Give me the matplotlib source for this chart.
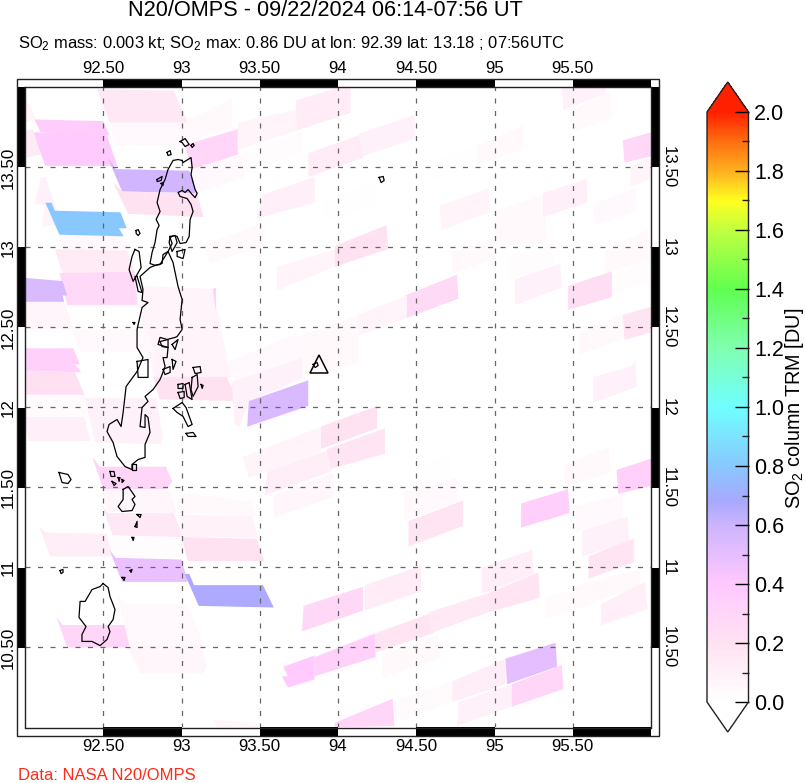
import numpy as np
import matplotlib
matplotlib.use('Agg')
import matplotlib.pyplot as plt
from matplotlib.cm import ScalarMappable
from matplotlib.collections import PolyCollection
from matplotlib.colors import LinearSegmentedColormap, Normalize
from matplotlib.patches import Rectangle

plt.rcParams['font.family'] = ['Liberation Sans', 'DejaVu Sans']
plt.rcParams['mathtext.default'] = 'regular'

lonTicks = [92.5, 93, 93.5, 94, 94.5, 95, 95.5]
latTicks = [10.5, 11, 11.5, 12, 12.5, 13, 13.5]
lonLabels = ['92.50', '93', '93.50', '94', '94.50', '95', '95.50']
latLabels = ['10.50', '11', '11.50', '12', '12.50', '13', '13.50']
barTicks = [0.0, 0.2, 0.4, 0.6, 0.8, 1.0, 1.2, 1.4, 1.6, 1.8, 2.0]

# colour table
cmapStops = [0.0, 0.2, 0.4, 0.6, 0.68, 0.8, 1.0, 1.2, 1.4, 1.6, 1.7, 1.8, 1.9, 2.0]
cmapColors = ['#FFFFFF', '#FFE2F2', '#FFC8FF', '#CCB4FF', '#A8A8FF', '#88C8FF', '#70FFFF',
              '#80FFB0', '#60FF50', '#C0FF40', '#FFFF20', '#FFB020', '#FF7010', '#FF2000']

# footprints of the west part of the swath
westLons = [
    [92.46, 92.95, 93.04, 92.54], [92.54, 93.04, 93.09, 92.58],
    [92.03, 92.07, 92.50, 92.54, 92.10], [92.05, 92.52, 92.59, 92.13],
    [92.00, 92.05, 92.10, 92.00], [92.00, 92.07, 92.00],
    [92.53, 92.58, 93.05, 93.11, 92.62], [92.56, 92.62, 93.10, 93.14, 92.66],
    [92.06, 92.10, 92.13, 92.22, 92.11], [92.11, 92.13, 92.22, 92.18],
    [92.21, 92.63, 92.68, 92.26], [92.19, 92.65, 92.70, 92.24], [92.22, 92.70, 92.72, 92.27],
    [92.13, 92.17, 92.19, 92.61, 92.65, 92.60, 92.63, 92.22],
    [92.00, 92.24, 92.27, 92.24, 92.25, 92.00], [92.00, 92.25, 92.31, 92.00],
    [92.00, 92.31, 92.35, 92.32, 92.36, 92.00], [92.00, 92.32, 92.38, 92.00],
    [92.00, 92.38, 92.40, 92.00], [92.00, 92.38, 92.42, 92.02],
    [92.38, 92.84, 92.88, 92.87, 92.45], [92.75, 93.20, 93.26, 92.74],
    [93.20, 93.22, 93.22], [92.30, 92.78, 92.83, 92.35], [92.78, 93.25, 93.29, 92.83],
    [92.79, 93.28, 93.32, 92.82], [92.82, 93.29, 93.36, 92.86],
    [92.43, 92.48, 92.90, 92.94, 92.91, 92.50], [92.49, 92.93, 92.97, 92.53],
    [92.49, 92.53, 92.95, 93.01, 92.56], [92.54, 93.01, 93.05, 92.58],
    [92.09, 92.13, 92.52, 92.56, 92.16], [92.99, 93.45, 93.48, 92.97],
    [92.99, 93.45, 93.49, 93.00], [93.00, 93.48, 93.53, 93.04],
    [92.54, 92.58, 93.00, 93.04, 92.62], [93.02, 93.05, 93.08, 93.52, 93.59, 93.11],
    [92.20, 92.24, 92.64, 92.67, 92.27], [92.59, 92.64, 93.04, 93.14, 92.67],
    [92.65, 93.13, 93.16, 93.14, 92.74], [93.20, 93.48, 93.49, 93.23],
]
westLats = [
    [13.99, 13.98, 13.78, 13.78], [13.78, 13.78, 13.63, 13.64],
    [13.86, 13.80, 13.79, 13.70, 13.72], [13.72, 13.71, 13.51, 13.51],
    [13.73, 13.74, 13.58, 13.56], [13.95, 13.80, 13.78],
    [13.56, 13.49, 13.48, 13.34, 13.35], [13.41, 13.35, 13.34, 13.19, 13.21],
    [13.27, 13.44, 13.44, 13.19, 13.27], [13.13, 13.28, 13.08, 13.14],
    [13.08, 13.07, 12.94, 12.95], [12.99, 12.98, 12.85, 12.84], [12.84, 12.85, 12.64, 12.64],
    [13.28, 13.28, 13.23, 13.22, 13.12, 13.12, 13.07, 13.08],
    [12.81, 12.79, 12.70, 12.70, 12.66, 12.66], [12.66, 12.66, 12.49, 12.49],
    [12.37, 12.37, 12.27, 12.27, 12.22, 12.23], [12.23, 12.22, 12.08, 12.08],
    [12.08, 12.07, 11.94, 11.94], [11.94, 11.94, 11.79, 11.79],
    [12.06, 12.06, 11.82, 11.77, 11.78], [12.76, 12.74, 12.49, 12.49],
    [12.74, 12.75, 12.60], [12.49, 12.49, 12.35, 12.35], [12.49, 12.49, 12.33, 12.35],
    [12.35, 12.33, 12.19, 12.19], [12.19, 12.19, 12.04, 12.05],
    [11.69, 11.63, 11.63, 11.54, 11.49, 11.49], [11.49, 11.48, 11.34, 11.35],
    [11.40, 11.34, 11.34, 11.19, 11.20], [11.20, 11.19, 11.06, 11.06],
    [11.26, 11.22, 11.21, 11.07, 11.07], [11.47, 11.41, 11.32, 11.34],
    [11.33, 11.32, 11.19, 11.19], [11.19, 11.18, 11.04, 11.04],
    [11.11, 11.06, 11.05, 10.91, 10.91], [10.96, 10.96, 10.89, 10.89, 10.75, 10.76],
    [10.69, 10.64, 10.64, 10.50, 10.50], [10.83, 10.77, 10.77, 10.51, 10.50],
    [10.51, 10.51, 10.38, 10.34, 10.34], [10.05, 10.03, 10.00, 10.00],
]
westValues = [0.16, 0.05, 0.36, 0.38, 0.14, 0.08, 0.58, 0.20, 0.10, 0.08, 0.05, 0.14, 0.27,
              0.80, 0.55, 0.07, 0.33, 0.22, 0.03, 0.11, 0.10, 0.08, 0.35, 0.05, 0.08, 0.08,
              0.20, 0.30, 0.06, 0.16, 0.02, 0.12, 0.04, 0.09, 0.20, 0.48, 0.67, 0.30, 0.05,
              0.06, 0.06]

# footprints of the east part of the swath
eastLons = [
    [93.73, 94.01, 94.08, 94.08, 93.73], [93.03, 93.32, 93.32, 93.03], [93.02, 93.36, 93.36, 93.07],
    [93.36, 93.73, 93.74, 93.36], [93.40, 93.77, 93.77, 93.40], [93.07, 93.40, 93.40, 93.09],
    [93.52, 93.85, 93.85, 93.48], [93.81, 94.16, 94.16, 93.81], [94.13, 94.49, 94.49, 94.16],
    [93.90, 94.24, 94.23, 93.90], [93.14, 93.52, 93.52, 93.18], [93.61, 93.99, 93.98, 93.61],
    [93.98, 94.31, 94.32, 93.98], [94.43, 94.76, 94.77, 94.44], [94.10, 94.44, 94.44, 94.10],
    [93.74, 94.13, 94.13, 93.77], [93.29, 93.73, 93.77, 93.34],
    [93.32, 93.77, 93.77, 93.43, 93.37, 93.34], [93.43, 93.81, 93.81, 93.42],
    [93.89, 94.25, 94.25, 93.89], [93.93, 94.30, 94.30, 93.93],
    [93.39, 93.89, 93.89, 93.55, 93.43], [93.55, 93.93, 93.96, 93.53], [93.59, 93.97, 93.97, 93.59],
    [94.42, 94.59, 94.59, 94.42], [94.53, 94.72, 94.72, 94.53], [94.53, 94.76, 94.76, 94.53],
    [94.45, 94.80, 94.80, 94.45], [95.17, 95.47, 95.48, 95.17], [95.52, 95.82, 95.82, 95.52],
    [95.56, 95.85, 95.86, 95.56], [95.60, 95.89, 95.89, 95.60], [95.54, 95.82, 95.83, 95.54],
    [95.82, 96.00, 96.00, 95.83], [95.63, 95.88, 95.90, 95.91, 95.63], [95.44, 95.73, 95.74, 95.45],
    [95.78, 96.00, 96.00, 95.79], [94.65, 94.96, 94.97, 94.66], [95.01, 95.31, 95.34, 95.01],
    [95.31, 95.59, 95.59, 95.31], [95.63, 95.90, 95.91, 95.64], [95.71, 95.98, 96.00, 95.71],
    [95.75, 96.00, 96.00, 95.76], [95.09, 95.37, 95.38, 95.09], [95.13, 95.42, 95.43, 95.13],
    [95.47, 95.75, 95.75, 95.47], [95.82, 96.00, 96.00, 95.83], [95.87, 96.00, 96.00, 95.87],
    [95.43, 95.71, 95.71, 95.44], [95.50, 95.74, 95.75, 95.51], [94.89, 95.18, 95.18, 94.89],
    [94.57, 94.89, 94.89, 94.57], [94.73, 95.00, 95.00, 94.73],
    [93.78, 94.16, 94.16, 93.77], [94.17, 94.53, 94.53, 94.17], [93.85, 94.24, 94.24, 93.85],
    [93.65, 93.85, 93.85, 93.68, 93.64, 93.68], [94.24, 94.61, 94.61, 94.24],
    [94.58, 94.96, 94.96, 94.59], [94.96, 95.28, 95.29, 94.96],
    [94.92, 95.24, 95.25, 94.96, 94.92], [94.29, 94.64, 94.65, 94.28],
    [93.98, 94.35, 94.36, 93.98], [94.35, 94.73, 94.73, 94.37], [94.73, 95.07, 95.07, 94.73],
    [94.77, 95.11, 95.11, 94.76], [95.11, 95.43, 95.44, 95.11], [95.07, 95.39, 95.40, 95.08],
    [95.32, 95.64, 95.64, 95.32], [95.50, 95.93, 95.93, 95.53], [95.68, 95.96, 95.98, 95.68],
]
eastLats = [
    [13.92, 14.00, 14.00, 13.84, 13.73], [13.79, 13.93, 13.75, 13.66], [13.64, 13.74, 13.58, 13.49],
    [13.78, 13.86, 13.73, 13.61], [13.60, 13.72, 13.59, 13.47], [13.49, 13.58, 13.44, 13.34],
    [13.33, 13.44, 13.28, 13.18], [13.59, 13.71, 13.56, 13.44], [13.71, 13.83, 13.68, 13.57],
    [13.28, 13.41, 13.26, 13.16], [13.02, 13.15, 13.01, 12.90], [12.88, 12.99, 12.88, 12.73],
    [13.01, 13.14, 12.99, 12.88], [12.70, 12.83, 12.68, 12.56], [12.57, 12.70, 12.56, 12.44],
    [12.44, 12.58, 12.28, 12.18], [12.28, 12.46, 12.31, 12.16],
    [12.16, 12.31, 12.18, 12.04, 11.88, 11.89], [12.04, 12.17, 12.01, 11.88],
    [11.88, 12.01, 11.87, 11.74], [11.74, 11.87, 11.71, 11.61],
    [11.69, 11.88, 11.72, 11.60, 11.56], [11.60, 11.73, 11.60, 11.45], [11.45, 11.59, 11.44, 11.31],
    [11.47, 11.52, 11.35, 11.30], [11.63, 11.71, 11.57, 11.51], [11.49, 11.56, 11.41, 11.33],
    [11.29, 11.42, 11.26, 11.13], [11.40, 11.49, 11.34, 11.25], [11.38, 11.46, 11.31, 11.22],
    [11.23, 11.32, 11.16, 11.07], [11.07, 11.18, 11.03, 10.93], [12.47, 12.58, 12.43, 12.33],
    [12.58, 12.63, 12.47, 12.42], [12.19, 12.26, 12.30, 12.13, 12.03], [11.64, 11.75, 11.59, 11.51],
    [11.61, 11.68, 11.51, 11.46], [13.26, 13.37, 13.22, 13.11], [13.23, 13.33, 13.03, 13.01],
    [13.34, 13.43, 13.28, 13.19], [13.27, 13.37, 13.23, 13.14], [12.98, 13.11, 12.93, 12.84],
    [12.82, 12.93, 12.78, 12.72], [12.94, 13.02, 12.89, 12.80], [12.80, 12.90, 12.75, 12.64],
    [12.76, 12.85, 12.69, 12.61], [13.67, 13.72, 13.57, 13.53], [13.51, 13.56, 13.43, 13.38],
    [14.00, 14.00, 13.96, 13.86], [13.86, 13.98, 13.81, 13.73], [13.64, 13.76, 13.61, 13.52],
    [13.53, 13.64, 13.52, 13.41], [12.97, 13.05, 12.93, 12.84],
    [10.76, 10.88, 10.73, 10.60], [10.89, 11.01, 10.85, 10.73], [10.44, 10.59, 10.44, 10.32],
    [10.38, 10.45, 10.30, 10.25, 10.32, 10.32], [10.59, 10.72, 10.59, 10.47],
    [10.72, 10.84, 10.72, 10.59], [10.84, 10.97, 10.81, 10.72],
    [11.00, 11.11, 10.96, 10.85, 10.84], [10.46, 10.58, 10.43, 10.31],
    [10.03, 10.18, 10.01, 10.00], [10.16, 10.29, 10.16, 10.03], [10.29, 10.43, 10.27, 10.16],
    [10.16, 10.27, 10.13, 10.01], [10.27, 10.39, 10.24, 10.13], [10.43, 10.53, 10.38, 10.27],
    [10.81, 10.91, 10.77, 10.68], [10.88, 10.99, 10.88, 10.75], [10.77, 10.91, 10.74, 10.64],
]
eastValues = [0.13, 0.04, 0.30, 0.08, 0.02, 0.05, 0.11, 0.13, 0.10, 0.01, 0.04, 0.08, 0.20,
              0.26, 0.08, 0.04, 0.05, 0.10, 0.55, 0.20, 0.18, 0.08, 0.12, 0.06, 0.04, 0.01,
              0.05, 0.18, 0.35, 0.05, 0.10, 0.18, 0.04, 0.18, 0.10, 0.04, 0.33, 0.08, 0.04,
              0.11, 0.05, 0.04, 0.02, 0.02, 0.10, 0.23, 0.28, 0.08, 0.10, 0.04, 0.04, 0.01,
              0.04, 0.28, 0.13, 0.33, 0.38, 0.18, 0.15, 0.18, 0.12, 0.04, 0.30, 0.03, 0.12,
              0.10, 0.30, 0.50, 0.03, 0.04, 0.11]

# coastlines, one list per island
coastLons = [
    [93.004, 93.010, 93.061, 93.068, 93.061, 93.074, 93.087, 93.100, 93.087, 93.068, 93.042, 93.023,
     93.004, 92.978, 92.991, 93.036, 93.061, 93.074, 93.055, 93.049, 93.029, 92.991, 92.972, 92.953,
     92.927, 92.940, 92.914, 92.882, 92.876, 92.831, 92.799, 92.812, 92.831, 92.844, 92.857, 92.838,
     92.863, 92.844, 92.863, 92.895, 92.914, 92.946, 92.978],
    [92.831, 92.863, 92.914, 92.946, 92.978, 93.004, 92.991, 93.004, 92.972, 92.959, 92.908, 92.863,
     92.850, 92.914, 92.908, 92.882, 92.895, 92.876, 92.863, 92.818, 92.767, 92.786, 92.748, 92.735,
     92.767, 92.767, 92.786, 92.799, 92.767, 92.767, 92.723, 92.684, 92.684, 92.639, 92.588, 92.563,
     92.524, 92.537, 92.588, 92.614, 92.627, 92.646, 92.716, 92.754, 92.716, 92.716, 92.748, 92.786,
     92.748, 92.754, 92.735, 92.799],
    [92.703, 92.729, 92.742, 92.691, 92.665, 92.684],
    [92.716, 92.748, 92.723, 92.703],
    [92.991, 93.023, 93.049, 93.023, 93.004],
    [93.061, 93.074, 93.081, 93.068],
    [92.908, 92.927, 92.934, 92.914],
    [92.844, 92.876, 92.870, 92.844],
    [92.710, 92.723, 92.735, 92.723, 92.710],
    [92.870, 92.882, 92.882],
    [92.927, 92.959, 92.972, 92.940, 92.921],
    [92.972, 93.023, 93.010, 92.972],
    [92.691, 92.703, 92.697],
    [92.863, 92.914, 92.914, 92.876],
    [92.940, 92.978, 92.959],
    [92.716, 92.786, 92.786, 92.723],
    [92.940, 92.965, 92.946],
    [92.882, 92.927, 92.927, 92.895],
    [93.074, 93.119, 93.125, 93.087],
    [93.068, 93.100, 93.106, 93.074, 93.061],
    [93.023, 93.049, 93.068, 93.036],
    [92.978, 93.010, 93.010, 92.978],
    [92.978, 93.017, 93.017, 92.991],
    [93.125, 93.138, 93.132],
    [92.946, 93.004, 93.029, 93.068, 93.042, 93.010, 92.972],
    [93.029, 93.074, 93.093, 93.042],
    [92.217, 92.275, 92.294, 92.275, 92.237],
    [92.543, 92.569, 92.575, 92.550],
    [92.556, 92.582, 92.569],
    [92.595, 92.607, 92.601],
    [92.620, 92.633, 92.620],
    [92.684, 92.710, 92.710, 92.684],
    [92.627, 92.659, 92.703, 92.684, 92.703, 92.684, 92.620, 92.595, 92.627],
    [92.716, 92.742, 92.735],
    [92.703, 92.716, 92.716],
    [92.684, 92.697, 92.691],
    [92.224, 92.243, 92.243, 92.230],
    [92.671, 92.684, 92.678],
    [92.620, 92.639, 92.633],
    [92.499, 92.531, 92.543, 92.575, 92.563, 92.531, 92.543, 92.524, 92.480, 92.428, 92.364, 92.364,
     92.390, 92.345, 92.352, 92.384, 92.428, 92.480],
    [94.263, 94.289, 94.295, 94.276],
    [93.841, 93.867, 93.873, 93.854],
]
coastLats = [
    [13.544, 13.531, 13.562, 13.500, 13.456, 13.406, 13.362, 13.338, 13.312, 13.331, 13.362, 13.344,
     13.356, 13.344, 13.319, 13.306, 13.269, 13.225, 13.175, 13.069, 13.031, 13.025, 13.069, 13.075,
     13.062, 13.025, 12.975, 12.956, 12.900, 12.888, 12.900, 12.969, 13.031, 13.112, 13.138, 13.175,
     13.225, 13.281, 13.362, 13.425, 13.488, 13.544, 13.550],
    [12.888, 12.894, 12.975, 12.906, 12.756, 12.675, 12.550, 12.488, 12.444, 12.438, 12.425, 12.438,
     12.394, 12.375, 12.312, 12.312, 12.256, 12.206, 12.175, 12.112, 12.069, 12.038, 12.000, 11.881,
     11.875, 11.956, 11.938, 11.844, 11.769, 11.688, 11.675, 11.644, 11.612, 11.631, 11.694, 11.781,
     11.850, 11.894, 11.925, 11.881, 11.969, 12.131, 12.225, 12.312, 12.375, 12.488, 12.625, 12.656,
     12.669, 12.738, 12.819, 12.875],
    [12.988, 12.975, 12.875, 12.788, 12.862, 12.944],
    [12.819, 12.719, 12.725, 12.819],
    [13.662, 13.681, 13.644, 13.631, 13.656],
    [13.638, 13.650, 13.638, 13.625],
    [13.594, 13.606, 13.581, 13.575],
    [13.425, 13.444, 13.419, 13.412],
    [13.106, 13.112, 13.088, 13.075, 13.088],
    [13.400, 13.406, 13.388],
    [13.069, 13.075, 13.031, 12.975, 13.031],
    [12.975, 12.988, 12.931, 12.944],
    [12.531, 12.531, 12.519],
    [12.412, 12.425, 12.375, 12.381],
    [12.394, 12.425, 12.362],
    [12.288, 12.300, 12.188, 12.188],
    [12.300, 12.288, 12.238],
    [12.238, 12.256, 12.219, 12.206],
    [12.250, 12.256, 12.219, 12.212],
    [12.188, 12.206, 12.131, 12.069, 12.112],
    [12.144, 12.156, 12.050, 12.069],
    [12.144, 12.150, 12.119, 12.119],
    [12.094, 12.100, 12.062, 12.056],
    [12.144, 12.138, 12.119],
    [11.994, 12.031, 12.000, 11.894, 11.881, 11.944, 11.969],
    [11.838, 11.844, 11.819, 11.819],
    [11.594, 11.581, 11.550, 11.525, 11.531],
    [11.600, 11.600, 11.569, 11.569],
    [11.538, 11.525, 11.512],
    [11.562, 11.562, 11.538],
    [11.550, 11.544, 11.531],
    [11.644, 11.644, 11.612, 11.612],
    [11.488, 11.506, 11.444, 11.425, 11.394, 11.356, 11.350, 11.381, 11.425],
    [11.331, 11.331, 11.312],
    [11.256, 11.288, 11.250],
    [11.188, 11.188, 11.169],
    [10.981, 10.988, 10.969, 10.962],
    [10.981, 10.988, 10.969],
    [10.938, 10.938, 10.919],
    [10.900, 10.875, 10.819, 10.738, 10.675, 10.631, 10.600, 10.550, 10.512, 10.538, 10.538, 10.581,
     10.631, 10.688, 10.788, 10.788, 10.862, 10.881],
    [13.438, 13.444, 13.419, 13.406],
    [12.269, 12.281, 12.262, 12.250],
]

volcanoLon = [93.88]
volcanoLat = [12.27]


def pixelBox(left, top, right, bottom):
    return [left / 805, 1 - bottom / 783, (right - left) / 805, (bottom - top) / 783]


def drawFootprints(ax, cmap, norm):
    lons = westLons + eastLons
    lats = westLats + eastLats
    values = westValues + eastValues
    polys = [np.column_stack((lo, la)) for lo, la in zip(lons, lats)]
    footprints = PolyCollection(polys, array=np.array(values), cmap=cmap, norm=norm,
                                edgecolors='none', zorder=1)
    ax.add_collection(footprints)


def drawCoast(ax):
    for lons, lats in zip(coastLons, coastLats):
        ax.plot(lons + lons[:1], lats + lats[:1], color='black', lw=0.9, zorder=4)
    ax.plot(volcanoLon, volcanoLat, marker='^', ms=12.5, mfc='none', mec='black', mew=1.1,
            ls='none', zorder=4)


def drawFrame(ax):
    # alternating black and white bands round the map, the four corners stay white
    bandLon = 0.0512
    bandLat = 0.05
    lonEdges = [92.0 - bandLon] + lonTicks + [96.0, 96.0 + bandLon]
    latEdges = [10.0 - bandLat] + latTicks + [14.0, 14.0 + bandLat]
    for i in range(len(lonEdges) - 1):
        col = 'white' if i % 2 == 0 else 'black'
        for y0 in [10.0 - bandLat, 14.0]:
            ax.add_patch(Rectangle((lonEdges[i], y0), lonEdges[i + 1] - lonEdges[i], bandLat,
                                   fc=col, ec='none', clip_on=False, zorder=5))
    for i in range(len(latEdges) - 1):
        col = 'white' if i % 2 == 0 else 'black'
        for x0 in [92.0 - bandLon, 96.0]:
            ax.add_patch(Rectangle((x0, latEdges[i]), bandLon, latEdges[i + 1] - latEdges[i],
                                   fc=col, ec='none', clip_on=False, zorder=5))
    ax.add_patch(Rectangle((92.0 - bandLon, 10.0 - bandLat), 4 + 2 * bandLon, 4 + 2 * bandLat,
                           fc='none', ec='#222222', lw=1.0, clip_on=False, zorder=6))


def setupMap(ax):
    ax.set_xlim(92, 96)
    ax.set_ylim(10, 14)
    ax.set_xticks(lonTicks)
    ax.set_xticklabels(lonLabels)
    ax.set_yticks(latTicks)
    ax.set_yticklabels(latLabels)
    ax.grid(True, color='#666666', lw=0.9, ls=(0, (4, 6)), zorder=3)
    ax.set_axisbelow(False)
    ax.tick_params(axis='x', length=0, labelsize=12.2, top=False, labeltop=True, pad=8.5)
    ax.tick_params(axis='y', length=0, labelsize=12.2, right=False, labelright=True, pad=7)
    for tick in ax.yaxis.get_major_ticks():
        tick.label1.set_rotation(90)
        tick.label1.set_va('center')
        tick.label2.set_rotation(270)
        tick.label2.set_va('center')
    for side in ax.spines.values():
        side.set_linewidth(1.0)
        side.set_color('#222222')
        side.set_zorder(6)


def drawColorbar(fig, cmap, norm):
    # the extend triangles are drawn inside this box
    cax = fig.add_axes(pixelBox(707, 82, 748.5, 732))
    bar = fig.colorbar(ScalarMappable(norm=norm, cmap=cmap), cax=cax, extend='both',
                       extendfrac=30 / 590, ticks=barTicks, drawedges=False)
    bar.set_ticklabels(['%.1f' % t for t in barTicks])
    bar.ax.set_yticks(np.arange(0.1, 2.0, 0.2), minor=True)
    bar.ax.tick_params(which='major', direction='in', length=10, width=1, labelsize=15.5, pad=4, color='black')
    bar.ax.tick_params(which='minor', direction='in', length=5, width=1, color='#222222')
    bar.outline.set_linewidth(1.0)
    bar.outline.set_edgecolor('#222222')


def main():
    fig = plt.figure(figsize=(8.05, 7.83), dpi=100)
    ax = fig.add_axes(pixelBox(25, 87.5, 651, 727.5))

    cmap = LinearSegmentedColormap.from_list('so2', [(s / 2.0, c) for s, c in zip(cmapStops, cmapColors)], N=512)
    cmap.set_under(cmapColors[0])
    cmap.set_over(cmapColors[-1])
    norm = Normalize(0, 2)

    setupMap(ax)
    drawFootprints(ax, cmap, norm)
    drawCoast(ax)
    drawFrame(ax)
    drawColorbar(fig, cmap, norm)

    fig.text(325 / 805, 1 - 11 / 783, 'N20/OMPS - 09/22/2024 06:14-07:56 UT', ha='center', va='center', fontsize=15.7)
    fig.text(18 / 805, 1 - 44 / 783, 'SO$_2$ mass: 0.003 kt; SO$_2$ max: 0.86 DU at lon: 92.39 lat: 13.18 ; 07:56UTC',
             ha='left', va='center', fontsize=11.9)
    fig.text(18 / 805, 1 - 776 / 783, 'Data: NASA N20/OMPS', ha='left', va='center', fontsize=12, color='#FF2A1A')
    fig.text(794 / 805, 1 - 408 / 783, 'SO$_2$ column TRM [DU]', rotation=90, ha='center', va='center', fontsize=14.3)

    fig.savefig('out.png', dpi=100)


main()
